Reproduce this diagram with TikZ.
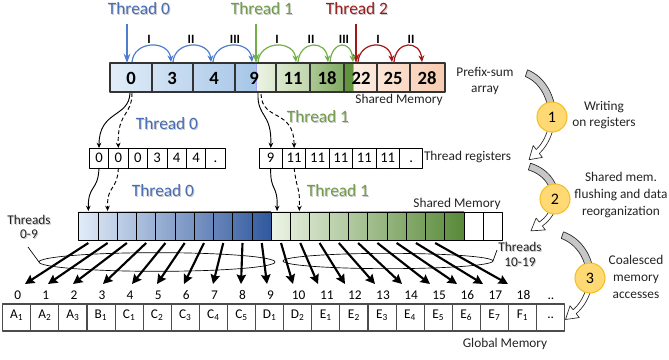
\documentclass[tikz,border=0pt]{standalone}
\usepackage{fontspec}
\setmainfont{Carlito}
\usetikzlibrary{arrows.meta,calc,shapes.geometric}
\definecolor{tblue}{RGB}{76,126,205}
\definecolor{tgreen}{RGB}{115,175,72}
\definecolor{tred}{RGB}{165,22,22}
\definecolor{lblue}{RGB}{70,108,178}
\definecolor{lgreen}{RGB}{112,156,72}
\definecolor{lred}{RGB}{152,28,28}
\definecolor{circfill}{RGB}{255,217,115}
\definecolor{circdraw}{RGB}{245,190,40}
\definecolor{txt}{RGB}{35,35,35}
\definecolor{ba1}{RGB}{226,237,248}
\definecolor{ba2}{RGB}{166,198,231}
\definecolor{ga1}{RGB}{237,244,230}
\definecolor{ga2}{RGB}{218,232,205}
\definecolor{ga3}{RGB}{192,214,172}
\definecolor{ga4}{RGB}{172,200,148}
\definecolor{ga5}{RGB}{128,170,98}
\definecolor{ga6}{RGB}{98,148,62}
\definecolor{pa1}{RGB}{253,237,227}
\definecolor{pa2}{RGB}{248,203,176}
\definecolor{bl1}{RGB}{226,236,248}
\definecolor{bl2}{RGB}{48,88,158}
\definecolor{gl1}{RGB}{237,244,230}
\definecolor{gl2}{RGB}{88,137,56}

\tikzset{
  every node/.style={inner sep=0pt, outer sep=0pt},
  lbl/.style={font=\fontsize{10}{12}\selectfont, text=txt},
  ttl/.style={font=\fontsize{13}{15}\selectfont},
  topnum/.style={font=\bfseries\fontsize{14}{16}\selectfont},
  romanlbl/.style={font=\bfseries\fontsize{9.5}{11}\selectfont},
  regcell/.style={draw=black, line width=0.6pt, minimum height=15pt, text height=7.5pt, text depth=0pt, font=\fontsize{11}{13}\selectfont},
  smcell/.style={draw=black, line width=0.7pt, minimum width=14.45pt, minimum height=21pt},
  gmcell/.style={draw=black!70, line width=0.8pt, minimum width=21.08pt, minimum height=20.25pt, text height=6.5pt, text depth=5pt, font=\fontsize{10}{12}\selectfont},
  idx/.style={font=\fontsize{10}{12}\selectfont, anchor=base},
  tharrow/.style={line width=1.2pt, -{Stealth[length=7pt,width=5pt]}},
  arcarrow/.style={line width=0.9pt, -{Stealth[length=5pt,width=4.5pt]}},
  regarrow/.style={line width=0.7pt, -{Stealth[length=4pt,width=3.5pt]}},
  dasharrow/.style={regarrow, dash pattern=on 3pt off 2pt},
  memarrow/.style={line width=1.6pt, -{Stealth[length=7pt,width=7pt,inset=1pt]}},
  stepcircle/.style={circle, draw=circdraw, fill=circfill, line width=0.8pt, minimum size=22.5pt, font=\fontsize{12}{14}\selectfont},
}

\newcommand\shadowlabel[6]{%
  \node[#6, text=black!22] (#1-sh) at (#2+1,#3+1) {#5};
  \node[#6, text=#4] (#1) at (#2,#3) {#5};}

\newcommand\curvedstep[4]{%
  \filldraw[fill=black!22, draw=black!85, line width=0.5pt]
    plot[domain=-72:-8, samples=30, variable=\t] ({#1+(#3+3.5)*cos(\t)},{#2+(#4+3.5)*sin(\t)})
    -- plot[domain=-8:-72, samples=30, variable=\t] ({#1+(#3-3.5)*cos(\t)},{#2+(#4-3.5)*sin(\t)})
    -- cycle;
  \filldraw[fill=white, draw=black!85, line width=0.5pt]
    plot[domain=8:52, samples=30, variable=\t] ({#1+(#3+2.5)*cos(\t)},{#2+(#4+2.5)*sin(\t)})
    -- ({#1+(#3+7.5)*cos(52)},{#2+(#4+7.5)*sin(52)})
    -- ({#1+#3*cos(52)-12*#3*sin(52)/veclen(#3*sin(52),#4*cos(52))},{#2+#4*sin(52)+12*#4*cos(52)/veclen(#3*sin(52),#4*cos(52))})
    -- ({#1+(#3-7.5)*cos(52)},{#2+(#4-7.5)*sin(52)})
    -- plot[domain=52:8, samples=30, variable=\t] ({#1+(#3-2.5)*cos(\t)},{#2+(#4-2.5)*sin(\t)})
    -- cycle;}

\begin{document}
\begin{tikzpicture}[x=0.75pt,y=-0.75pt,line join=round]
\useasboundingbox (0,0) rectangle (669,360);

% ---------- titles ----------
\shadowlabel{th0}{139}{9}{lblue}{Thread 0}{ttl}
\shadowlabel{th1}{262}{9}{lgreen}{Thread 1}{ttl}
\shadowlabel{th2}{357}{9}{lred}{Thread 2}{ttl}

% ---------- prefix-sum array ----------
\shade[left color=ba1, right color=ba2] (110,63) rectangle (256,92);
\shade[left color=ga1, right color=ga2] (256,63) rectangle (276,92);
\shade[left color=ga2, right color=ga3] (276,63) rectangle (310,92);
\shade[left color=ga4, right color=ga5] (310,63) rectangle (344,92);
\fill[ga6] (344,63) rectangle (353,92);
\shade[left color=pa1, right color=pa2] (353,63) rectangle (445,92);
\draw[blue!35, line width=0.6pt] (256,63) -- (256,92) (353,63) -- (353,92);
\foreach \xx in {152,193,235,276,310,344,377,410}
  \draw[black!80, line width=0.9pt] (\xx,63) -- (\xx,92);
\draw[black!80, line width=1.1pt] (110,63) rectangle (445,92);
\foreach \nm/\xx/\vv in {p0/131/0,p1/172/3,p2/214/4,p3/254/9,p4/293/11,p5/327/18,p6/361/22,p7/393/25,p8/427/28}
  \node[topnum] (\nm) at (\xx,78) {\vv};

% thread arrows
\coordinate (a0s) at (127,24); \coordinate (a0e) at (127,63);
\coordinate (a1s) at (256,24); \coordinate (a1e) at (256,63);
\coordinate (a2s) at (356,24); \coordinate (a2e) at (356,63);
\draw[tharrow, tblue] (a0s) -- (a0e);
\draw[tharrow, tgreen] (a1s) -- (a1e);
\draw[tharrow, tred] (a2s) -- (a2e);

% hop arcs
\foreach \aa/\bb/\cc in {132/171/tblue,173/211/tblue,213/252/tblue,258/296/tgreen,298/328/tgreen,330/353/tgreen,358/392/tred,394/422/tred}
  \draw[arcarrow, \cc] (\aa,62) .. controls (\aa+2,40) and (\bb-2,40) .. (\bb,62);
\foreach \nm/\xx/\vv in {r1/149/I,r2/191/II,r3/235/III,r4/277/I,r5/311/II,r6/344/III,r7/378/I,r8/411/II}
  \node[romanlbl] (\nm) at (\xx,39) {\vv};

\node[lbl] (shm1) at (399,100) {Shared Memory};
\node[lbl, align=center, font=\fontsize{10}{12}\selectfont] (pfx) at (485,81) {Prefix-sum\\array};

% ---------- registers ----------
\shadowlabel{rt0}{167}{124}{lblue}{Thread 0}{ttl}
\shadowlabel{rt1}{318}{117}{lgreen}{Thread 1}{ttl}
\foreach \vv [count=\i from 0] in {0,0,0,3,4,4,.}
  \node[regcell, minimum width=14.55pt] (ra\i) at ({89.3+19.4*\i+9.7},158) {\vv};
\foreach \vv [count=\i from 0] in {9,11,11,11,11,11,.}
  \node[regcell, minimum width=17.55pt] (rb\i) at ({259+23.4*\i+11.7},158) {\vv};
\node[lbl, anchor=west] (treg) at (424,157) {Thread registers};

\coordinate (c0a) at (130,93); \coordinate (c0b) at (132,93);
\coordinate (c1a) at (258,93); \coordinate (c1b) at (261,94);
\draw[regarrow] (c0a) .. controls (129,118) and (99,110) .. (ra0.north);
\draw[dasharrow] (c0b) .. controls (132,116) and (117,112) .. (ra1.north);
\draw[regarrow] (c1a) .. controls (257,118) and (272,112) .. (rb0.north);
\draw[dasharrow] (c1b) .. controls (262,122) and (294,108) .. (rb1.north);

% ---------- shared memory ----------
\shadowlabel{st0}{163}{191}{lblue}{Thread 0}{ttl}
\shadowlabel{st1}{338}{191}{lgreen}{Thread 1}{ttl}
\shade[left color=bl1, right color=bl2] (78.7,212) rectangle (271.4,240);
\shade[left color=gl1, right color=gl2] (271.4,212) rectangle (464.1,240);
\foreach \i in {0,...,21}
  \node[smcell] (s\i) at ({78.7+19.27*\i+9.635},226) {};
\node[lbl] (shm2) at (457,204) {Shared Memory};

\draw[regarrow] (ra0.south) .. controls (98,192) and (88,184) .. ($(s0.north)+(0,-1)$);
\draw[dasharrow] (ra1.south) .. controls (117,192) and (107,184) .. ($(s1.north)+(0,-1)$);
\draw[regarrow] (rb0.south) .. controls (270,192) and (278,184) .. ($(s10.north)+(-4,-1)$);
\draw[dasharrow] (rb1.south) .. controls (297,192) and (300,186) .. ($(s11.north)+(-1,-1)$);

% ---------- thread groups ----------
\node[ellipse, draw, line width=0.5pt, minimum width=177pt, minimum height=14pt] (el0) at (157,262) {};
\node[ellipse, draw, line width=0.5pt, minimum width=157.5pt, minimum height=11.5pt] (el1) at (388,261) {};
\shadowlabel{tl0}{29}{228}{txt}{\begin{tabular}{@{}c@{}}Threads\\[-1.5pt]0-9\end{tabular}}{lbl}
\shadowlabel{tl1}{520}{256}{txt}{\begin{tabular}{@{}c@{}}Threads\\[-0.5pt]10-19\end{tabular}}{lbl}
\draw[line width=0.5pt] (28,247) -- (el0.west);
\draw[line width=0.5pt] (el1.east) -- (497,250);

% ---------- global memory ----------
\foreach \vv [count=\i from 0] in {A\textsubscript{1},A\textsubscript{2},A\textsubscript{3},B\textsubscript{1},C\textsubscript{1},C\textsubscript{2},C\textsubscript{3},C\textsubscript{4},C\textsubscript{5},D\textsubscript{1},D\textsubscript{2},E\textsubscript{1},E\textsubscript{2},E\textsubscript{3},E\textsubscript{4},E\textsubscript{5},E\textsubscript{6},E\textsubscript{7},F\textsubscript{1},..}
  \node[gmcell] (g\i) at ({2.7+28.1*\i+14.05},317.5) {\vv};
\foreach \i in {0,...,18}
  \node[idx] (i\i) at ({2.7+28.1*\i+15},300) {\i};
\node[idx] (i19) at (551,300) {..};
\node[lbl] (gml) at (505,344) {Global Memory};

\foreach \ss/\ee in {0/25,1/48,2/73,3/103,4/132,5/157,6/184,7/213,8/241,9/267,10/293,11/318,12/345,13/375,14/402,15/430,16/457,17/483,18/508} {
  \coordinate (e\ss) at (\ee,284);
  \draw[memarrow] ($(s\ss.south)+(0,3)$) -- (e\ss);
}

% ---------- steps ----------
\curvedstep{515}{116}{37}{45}
\curvedstep{518}{198}{37}{33}
\curvedstep{550}{277}{40}{44}
\node[stepcircle] (n1) at (552,117) {1};
\node[stepcircle] (n2) at (555,199) {2};
\node[stepcircle] (n3) at (590,278) {3};
\node[lbl, align=center, font=\fontsize{10}{11.5}\selectfont] (d1) at (604,115) {Writing\\on registers};
\node[lbl, align=center, font=\fontsize{10}{12.6}\selectfont] (d2) at (621,195) {Shared mem.\\flushing and data\\reorganization};
\node[lbl, align=center, font=\fontsize{10}{12.6}\selectfont] (d3) at (636,277) {Coalesced\\memory\\accesses};
\end{tikzpicture}
\end{document}
